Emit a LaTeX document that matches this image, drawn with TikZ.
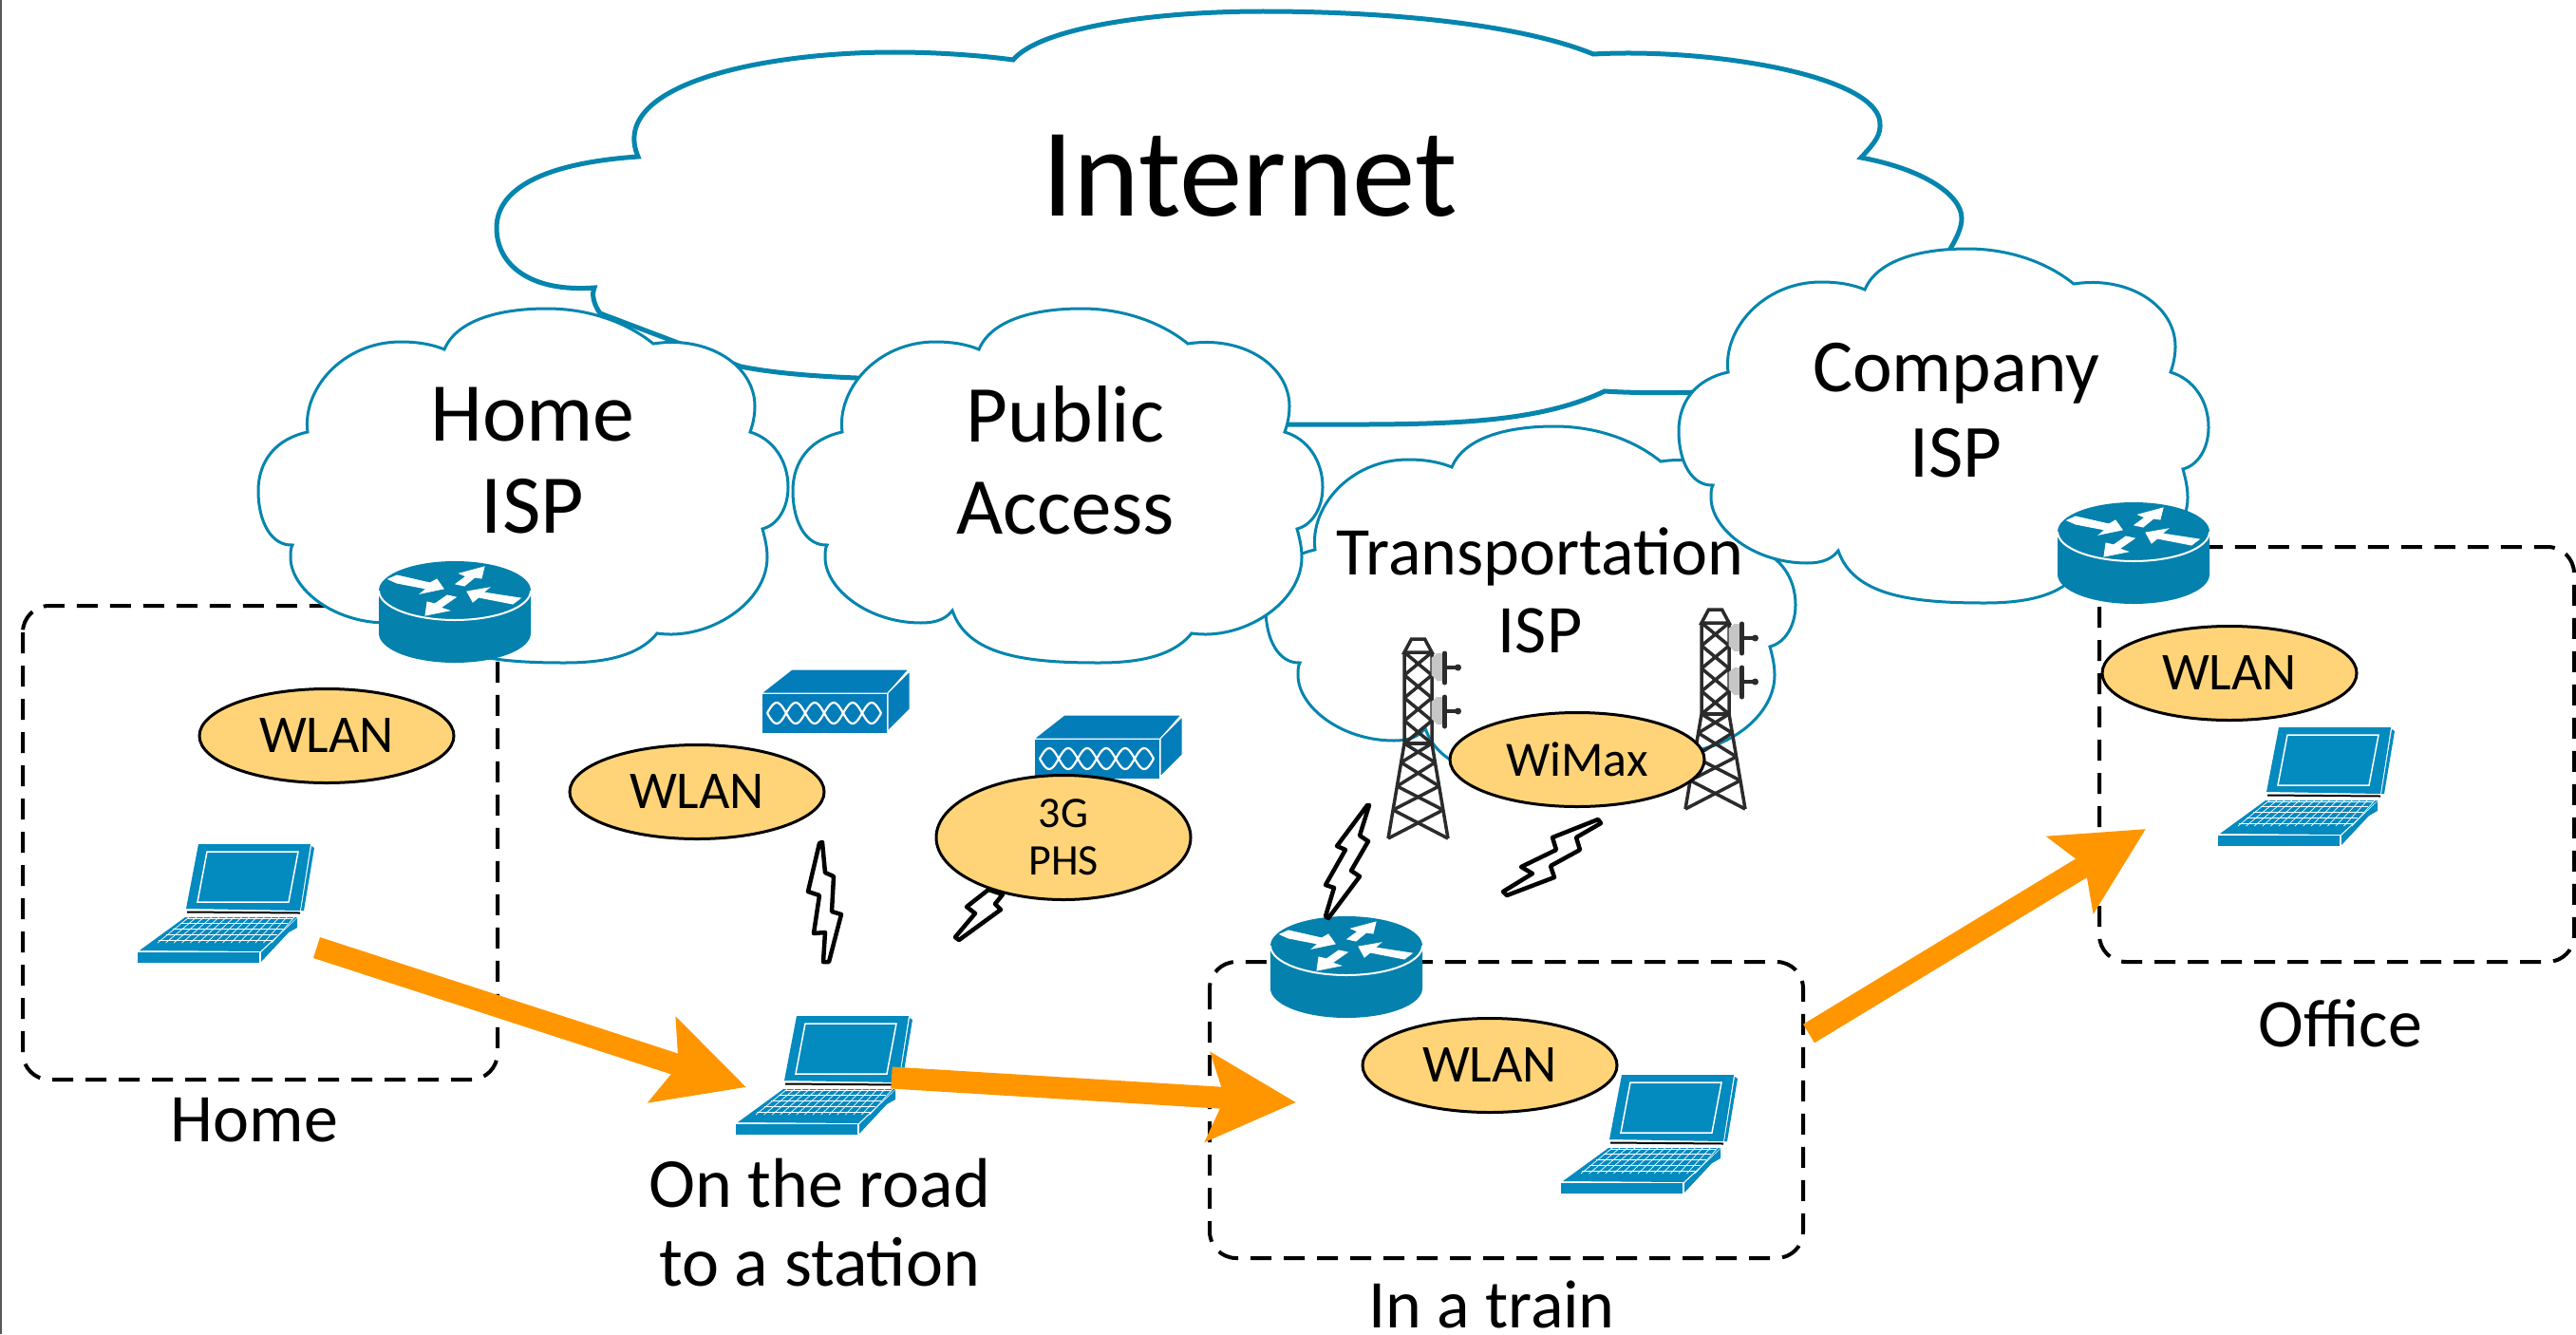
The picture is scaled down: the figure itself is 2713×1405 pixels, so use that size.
\documentclass[tikz,border=0pt]{standalone}
\usepackage{fontspec}
\setmainfont{Carlito}
\usetikzlibrary{arrows.meta,shapes.geometric}
\definecolor{cloudblue}{HTML}{0485AE}
\definecolor{routerblue}{HTML}{0481AD}
\definecolor{laptopblue}{HTML}{038ABF}
\definecolor{boxblue}{HTML}{037DB9}
\definecolor{wlanfill}{HTML}{FFD479}
\definecolor{movefill}{HTML}{FF9600}
\definecolor{towerdark}{HTML}{2B2B2B}
\tikzset{
  areabox/.style={draw,line width=4pt,dash pattern=on 22pt off 13pt,rounded corners=28pt},
  cloudline/.style={draw=cloudblue,fill=white,line width=3pt,miter limit=10},
  radio/.style={draw,fill=wlanfill,line width=3pt,ellipse,minimum width=268pt,minimum height=99pt,inner sep=0pt,align=center},
  bolt/.style={draw,fill=white,line width=4.5pt,line join=round},
  movearrow/.style={draw=movefill,line width=23pt,-{Stealth[length=92pt,width=92pt,inset=17pt,fill=movefill]}},
  textlabel/.style={inner sep=0pt,align=center},
  routerarrow/.style={fill=white,draw=white,line width=1pt},
  cloud/.pic={
    \path[cloudline] (-108,43) .. controls (-95,12) and (-50,0) .. (0,0)
      .. controls (45,0) and (85,15) .. (112,37)
      .. controls (170,28) and (219,60) .. (219,103)
      .. controls (219,112) and (217,122) .. (214,130)
      .. controls (238,137) and (254,160) .. (254,188)
      .. controls (254,210) and (243,228) .. (227,232)
      .. controls (230,243) and (232,252) .. (232,262)
      .. controls (232,310) and (170,350) .. (116,342)
      .. controls (95,368) and (55,373) .. (18,373)
      .. controls (-60,373) and (-120,365) .. (-136,318)
      .. controls (-145,330) and (-160,331) .. (-169,331)
      .. controls (-225,331) and (-270,295) .. (-270,262)
      .. controls (-270,258) and (-270,252) .. (-268,249)
      .. controls (-290,250) and (-304,225) .. (-304,192)
      .. controls (-304,160) and (-285,137) .. (-252,130)
      .. controls (-258,85) and (-215,35) .. (-154,35)
      .. controls (-135,35) and (-120,38) .. (-108,43) -- cycle;
  },
  router/.pic={
    \fill[routerblue] (-80,0) -- (-80,45) arc[start angle=180,end angle=360,x radius=80pt,y radius=31pt] -- (80,0) -- cycle;
    \fill[routerblue] (0,0) ellipse[x radius=80pt,y radius=31pt];
    \draw[white,line width=2pt] (-80,0) arc[start angle=180,end angle=360,x radius=80pt,y radius=31pt];
    \path[routerarrow] (-70,-12) -- (-61,-16) -- (-26,-8) -- (-19,-12) -- (-12,-2) -- (-36,3) -- (-30,-2) -- (-61,-8) -- cycle;
    \path[routerarrow] (31,-25) -- (5,-18) -- (12,-15) -- (1,-7) -- (10,-5) -- (21,-14) -- (28,-13) -- cycle;
    \path[routerarrow] (69,8) -- (61,14) -- (25,7) -- (19,12) -- (13,1) -- (36,-3) -- (30,2) -- cycle;
    \path[routerarrow] (-31,26) -- (-6,21) -- (-15,18) -- (1,7) -- (-8,5) -- (-21,14) -- (-29,12) -- cycle;
  },
  laptop/.pic={
    \fill[laptopblue] (64,-125) -- (182,-125) -- (171,-55) -- (51,-57) -- cycle;
    \fill[laptopblue] (183,-123) -- (186,-121) -- (175,-55) -- (172,-55) -- cycle;
    \draw[white,line width=1.5pt] (73,-117) -- (169,-117) -- (159,-64) -- (63,-64) -- cycle;
    \draw[line width=2pt] (52,-53.5) -- (171,-52.5);
    \fill[laptopblue] (50,-48) -- (168,-48) -- (129,-12) -- (2,-13) -- cycle;
    \fill[laptopblue] (0,-11) rectangle (128,0);
    \fill[laptopblue] (130,-11) -- (168,-47) -- (168,-37) -- (159,-32) -- (130,-1) -- cycle;
    \foreach \t in {0,.25,.5,.75,1}
      \draw[white,line width=.7pt] ({52-30*\t},{-47+23*\t}) -- ({163-21*\t},{-47+23*\t});
    \foreach \c in {0,...,14}
      \draw[white,line width=.7pt] ({54+111*\c/14},-48) -- ({21+120*\c/14},-21);
  },
  accessbox/.pic={
    \path[fill=boxblue,draw=white,line width=1pt] (0,0) rectangle (132,42);
    \path[fill=boxblue,draw=white,line width=1pt] (0,0) -- (32,-25) -- (155,-25) -- (133,0) -- cycle;
    \path[fill=boxblue,draw=white,line width=1pt] (133,0) -- (156,-23) -- (156,17) -- (133,40) -- cycle;
    \draw[white,line width=2.2pt] plot[domain=0:120,samples=73,smooth] ({6+\x},{21+11*sin(9*\x)});
    \draw[white,line width=2.2pt] plot[domain=0:120,samples=73,smooth] ({6+\x},{21-11*sin(9*\x)});
  },
  tower/.pic={
    \begin{scope}[towerdark,line width=3.5pt]
      \draw (-7,-210) -- (7,-210) -- (14.5,-196) -- (-14.5,-196) -- cycle;
      \draw (-14.5,-196) -- (-14.5,-100) -- (-31.5,0);
      \draw (14.5,-196) -- (14.5,-100) -- (31.5,0);
      \draw (-14.5,-100) -- (14.5,-100);
      \foreach \a/\b in {-196/-172,-172/-148,-148/-124,-124/-100} {
        \draw (-14.5,\a) -- (14.5,\b);
        \draw (14.5,\a) -- (-14.5,\b);
      }
      \foreach \a/\b in {-100/-80,-80/-55,-55/-30,-30/0} {
        \draw ({-31.5-.17*\a},\a) -- ({31.5+.17*\b},\b);
        \draw ({31.5+.17*\a},\a) -- ({-31.5-.17*\b},\b);
      }
      \foreach \d in {-180,-134} {
        \fill[gray!45] (14,\d-10) -- (20,\d-15) -- (26,\d-15) -- (26,\d+14) -- (20,\d+14) -- (14,\d+8) -- cycle;
        \draw[line width=5pt,line cap=round] (28,\d-15) -- (28,\d+16);
        \draw (30,\d) -- (42,\d);
        \fill (42,\d) circle (3.5pt);
      }
    \end{scope}
  },
}
\begin{document}
\begin{tikzpicture}[x=1pt,y=-1pt]
  \useasboundingbox (0,0) rectangle (2713,1405);
  \draw[gray!70!black,line width=1.5pt] (.75,0) -- (.75,1405);

  \draw[areabox] (24,638) rectangle (524,1137);
  \draw[areabox] (1274,1013) rectangle (1899,1325);
  \draw[areabox] (2211,576) rectangle (2711,1013);

  % the big cloud, under all others
  \path[cloudline,line width=5pt] (672,165) .. controls (640,90) and (800,55) .. (942,55)
    .. controls (985,55) and (1030,58) .. (1067,63)
    .. controls (1095,30) and (1210,12) .. (1330,12)
    .. controls (1460,12) and (1600,25) .. (1678,57)
    .. controls (1800,50) and (1985,80) .. (1980,133)
    .. controls (1980,145) and (1970,155) .. (1960,166)
    .. controls (2025,178) and (2066,205) .. (2066,230)
    .. controls (2066,240) and (2060,252) .. (2054,262)
    .. controls (2040,300) and (1900,420) .. (1790,413)
    .. controls (1755,414) and (1720,414) .. (1690,412)
    .. controls (1610,450) and (1500,447) .. (1358,447)
    .. controls (1100,447) and (1000,410) .. (902,398)
    .. controls (850,396) and (810,392) .. (780,386)
    -- (632,330) .. controls (625,320) and (623,310) .. (626,303)
    .. controls (560,308) and (523,280) .. (523,240)
    .. controls (523,200) and (570,172) .. (672,165) -- cycle;

  \pic at (1637,449) {cloud};
  \pic at (576,325) {cloud};
  \pic at (1139,325) {cloud};
  \pic at (2072,262) {cloud};

  \pic at (479,622) {router};
  \pic at (2247,560) {router};
  \pic at (1418,996) {router};

  \pic at (145,1014) {laptop};
  \pic at (775,1195) {laptop};
  \pic at (1644,1257) {laptop};
  \pic at (2336,891) {laptop};

  \pic at (802,730) {accessbox};
  \pic at (1089,778) {accessbox};

  \pic at (1493.5,883) {tower};
  \pic at (1806.5,852) {tower};

  \path[bolt] (863,888) -- (866,887) -- (869,919) -- (878,923) -- (876,960) -- (886,963) -- (873,1013) -- (867,1013) -- (869,982) -- (857,983) -- (863,943) -- (851,939) -- cycle;
  \path[bolt] (1041,937) -- (1056,942) -- (1048,952) -- (1054,958) -- (1010,990) -- (1006,987) -- (1027,962) -- (1018,955) -- cycle;
  \path[bolt] (1442,848) -- (1432,880) -- (1441,886) -- (1423,917) -- (1432,923) -- (1399,967) -- (1396,965) -- (1405,935) -- (1396,932) -- (1417,895) -- (1408,891) -- (1440,848) -- cycle;
  \path[bolt] (1686,867) -- (1660,882) -- (1664,895) -- (1633,912) -- (1637,924) -- (1587,943) -- (1583,939) -- (1614,920) -- (1602,913) -- (1639,895) -- (1635,882) -- (1683,863) -- cycle;

  \node[radio,font=\fontsize{56}{56}\selectfont] (homeWlan) at (344,775) {WLAN};
  \node[radio,font=\fontsize{56}{56}\selectfont] (roadWlan) at (734,834) {WLAN};
  \node[radio,font=\fontsize{56}{56}\selectfont] (trainWlan) at (1569,1122) {WLAN};
  \node[radio,font=\fontsize{56}{56}\selectfont] (officeWlan) at (2348,709) {WLAN};
  \node[radio,font=\fontsize{52}{52}\selectfont] (trainWimax) at (1661,800) {WiMax};
  \node[radio,minimum height=131pt,font=\fontsize{46}{50}\selectfont] (roadPhs) at (1120,882) {3G\\PHS};

  \node[textlabel,font=\fontsize{133}{133}\selectfont] (internetLabel) at (1316,185) {Internet};
  \node[textlabel,font=\fontsize{88}{97}\selectfont] (homeIsp) at (561,485) {Home\\ISP};
  \node[textlabel,font=\fontsize{85}{97}\selectfont] (publicAccess) at (1122,485) {Public\\Access};
  \node[textlabel,font=\fontsize{79}{90}\selectfont] (companyIsp) at (2060,432) {Company\\ISP};
  \node[textlabel,font=\fontsize{72}{82}\selectfont] (transportIsp) at (1622,622) {Transportation\\ISP};
  \node[textlabel,font=\fontsize{72}{72}\selectfont,anchor=base] (homeLabel) at (268,1202) {Home};
  \node[textlabel,font=\fontsize{74}{83}\selectfont] (roadLabel) at (863,1288) {On the road\\to a station};
  \node[textlabel,font=\fontsize{72}{72}\selectfont,anchor=base] (trainLabel) at (1571,1398) {In a train};
  \node[textlabel,font=\fontsize{72}{72}\selectfont,anchor=base] (officeLabel) at (2465,1102) {Office};

  \coordinate (homeTail) at (333.5,998);
  \coordinate (roadTip) at (786,1145);
  \coordinate (roadTail) at (939,1135);
  \coordinate (trainTip) at (1365,1161);
  \coordinate (trainTail) at (1905,1088.5);
  \coordinate (officeTip) at (2260,873);
  \draw[movearrow] (homeTail) -- (roadTip);
  \draw[movearrow] (roadTail) -- (trainTip);
  \draw[movearrow] (trainTail) -- (officeTip);
\end{tikzpicture}
\end{document}
